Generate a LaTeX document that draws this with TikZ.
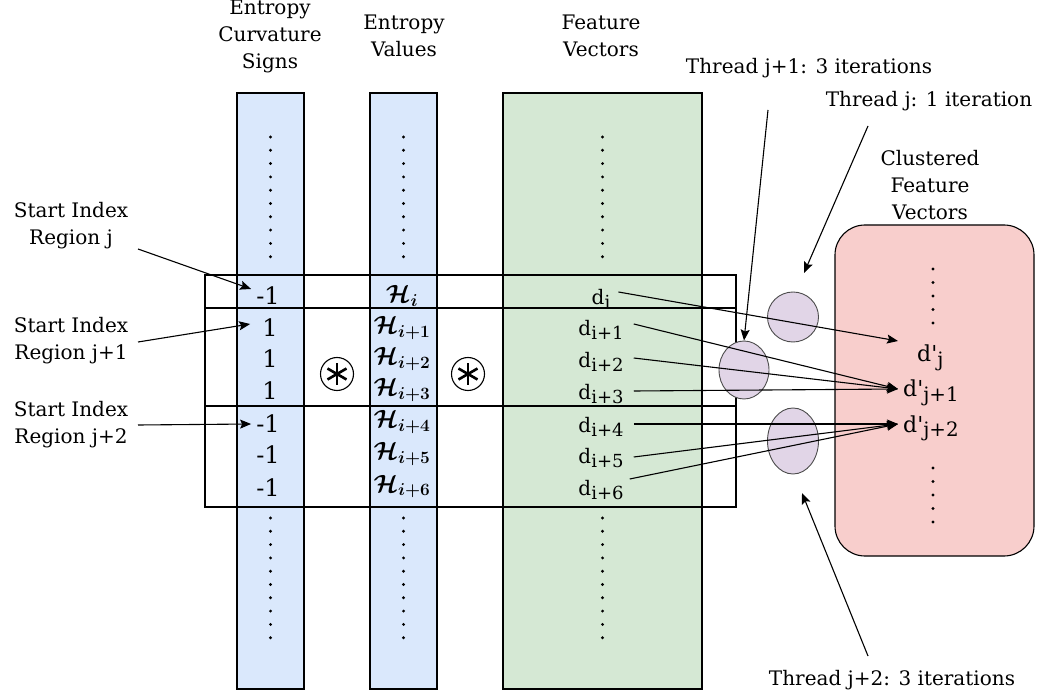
\documentclass[tikz,border=0pt]{standalone}
\usepackage{fontspec}
\setmainfont{DejaVu Serif}
\usepackage{amsmath,amssymb}
\usetikzlibrary{arrows.meta,shapes.geometric,calc}

\definecolor{blueF}{HTML}{DAE8FC}
\definecolor{greenF}{HTML}{D5E8D4}
\definecolor{pinkF}{HTML}{F8CECC}
\definecolor{purpleF}{HTML}{E1D5E7}

\tikzset{
  colbox/.style={draw, line width=1.2pt, inner sep=0pt},
  rowbox/.style={draw, line width=1.1pt},
  lbl/.style={align=center, inner sep=0pt},
  val/.style={anchor=base, inner sep=0pt},
  sign/.style={val, font=\fontsize{24}{24}\selectfont},
  ent/.style={val, font=\fontsize{27}{27}\selectfont},
  feat/.style={val, font=\fontsize{20}{20}\selectfont},
  clus/.style={val, anchor=base west, font=\fontsize{22}{22}\selectfont},
  thread/.style={ellipse, draw=black!70, fill=purpleF, line width=0.9pt, inner sep=0pt},
  conn/.style={line width=1.1pt, -{Stealth[length=11pt,width=9pt,inset=2pt]}},
  opdot/.style={circle, draw, line width=1.1pt, minimum size=33pt, inner sep=0pt},
}

% entropy symbol with bold index
\newcommand{\Hv}[1]{$\boldsymbol{\mathcal{H}}_{\boldsymbol{#1}}$}
% lowered index set close to full size
\newcommand{\lowidx}[1]{\raisebox{-0.2em}{\fontsize{0.9em}{1em}\selectfont #1}}

\begin{document}
\begin{tikzpicture}[x=1pt,y=-1pt, font=\fontsize{20}{27}\selectfont]
\useasboundingbox (0,0) rectangle (1039,700);

% the three data columns
\node[colbox, fill=blueF,  minimum width=67,  minimum height=596] (signs) at (270.5,391) {};
\node[colbox, fill=blueF,  minimum width=67,  minimum height=596] (vals)  at (403.5,391) {};
\node[colbox, fill=greenF, minimum width=199, minimum height=596] (feats) at (602.5,391) {};

% column headers
\node[lbl] (hsigns) at (270,36) {Entropy\\Curvature\\Signs};
\node[lbl] (hvals)  at (404,36) {Entropy\\Values};
\node[lbl] (hfeats) at (601,36) {Feature\\Vectors};

% vertical ellipses above and below the regions
\foreach \x in {270.5,403.5,602.5}{
  \foreach \k in {0,...,9}{
    \fill (\x,137+13.3*\k) circle (1.6);
    \fill (\x,518+13.3*\k) circle (1.6);
  }
}

% region outlines
\draw[rowbox] (205,275) rectangle (736,308);
\draw[rowbox] (205,308) rectangle (736,406);
\draw[rowbox] (205,406) rectangle (736,507);

% curvature signs
\node[sign] (s0) at (268,305) {-1};
\node[sign] (s1) at (270,337) {1};
\node[sign] (s2) at (270,368) {1};
\node[sign] (s3) at (270,400) {1};
\node[sign] (s4) at (268,432) {-1};
\node[sign] (s5) at (268,464) {-1};
\node[sign] (s6) at (268,496) {-1};

% entropy values
\node[ent] (h0) at (402,303) {\Hv{i}};
\node[ent] (h1) at (402,334) {\Hv{i+1}};
\node[ent] (h2) at (402,365) {\Hv{i+2}};
\node[ent] (h3) at (402,396) {\Hv{i+3}};
\node[ent] (h4) at (402,428) {\Hv{i+4}};
\node[ent] (h5) at (402,460) {\Hv{i+5}};
\node[ent] (h6) at (402,492) {\Hv{i+6}};

% element-wise products
\foreach \n/\x in {op1/337, op2/468}{
  \node[opdot] (\n) at (\x,374) {};
  \foreach \a in {90,30,150}{
    \draw[line width=2.6pt] ($(\n)+(\a:11)$) -- ($(\n)+(\a+180:11)$);
  }
}

% feature vectors
\node[feat] (d0) at (601,305) {d\lowidx{i}};
\node[feat] (d1) at (601,336) {d\lowidx{i+1}};
\node[feat] (d2) at (601,368) {d\lowidx{i+2}};
\node[feat] (d3) at (601,400) {d\lowidx{i+3}};
\node[feat] (d4) at (601,432) {d\lowidx{i+4}};
\node[feat] (d5) at (601,464) {d\lowidx{i+5}};
\node[feat] (d6) at (601,495) {d\lowidx{i+6}};

% clustered feature vectors
\node[lbl] (hclust) at (930,185) {Clustered\\Feature\\Vectors};
\node[draw, line width=1.1pt, fill=pinkF, rounded corners=30pt, minimum width=199,
      minimum height=331, inner sep=0pt] (clust) at (934.5,390.5) {};
\foreach \k in {0,...,4}{
  \fill (933,269+13.5*\k) circle (1.6);
  \fill (933,468+13.5*\k) circle (1.6);
}
\node[clus] (pj)  at (917,362) {d\textquotesingle\lowidx{j}};
\node[clus] (pj1) at (903,397) {d\textquotesingle\lowidx{j+1}};
\node[clus] (pj2) at (903,432) {d\textquotesingle\lowidx{j+2}};

% per-thread reductions
\node[thread, minimum width=51, minimum height=50] (t0) at (793,317) {};
\node[thread, minimum width=50, minimum height=58] (t1) at (744,370) {};
\node[thread, minimum width=51, minimum height=66] (t2) at (793,441) {};

% feature vectors to their cluster
\coordinate (pjIn)  at (898,341);
\coordinate (pj1In) at ([shift={(-5,-8)}]pj1.base west);
\coordinate (pj2In) at ([shift={(-5,-8)}]pj2.base west);
\draw[conn] ([shift={(8,-13)}]d0.base east) -- (pjIn);
\draw[conn] ([shift={(10,-12)}]d1.base east) -- (pj1In);
\draw[conn] ([shift={(10,-10)}]d2.base east) -- (pj1In);
\draw[conn] ([shift={(10,-9)}]d3.base east) -- (pj1In);
\draw[conn] ([shift={(10,-8)}]d4.base east) -- (pj2In);
\draw[conn] ([shift={(10,-7)}]d5.base east) -- (pj2In);
\draw[conn] ([shift={(6,-16)}]d6.base east) -- (pj2In);

% start index annotations
\node[lbl] (st0) at (71,226) {Start Index\\Region j};
\node[lbl] (st1) at (71,341) {Start Index\\Region j+1};
\node[lbl] (st2) at (71,425) {Start Index\\Region j+2};
\coordinate (st0o) at (138,249);
\coordinate (st1o) at (138,342);
\coordinate (st2o) at (138,425);
\draw[conn] (st0o) -- ([shift={(-5,-16)}]s0.base west);
\draw[conn] (st1o) -- ([shift={(-12,-13)}]s1.base west);
\draw[conn] (st2o) -- ([shift={(-5,-8)}]s4.base west);

% thread annotations
\node[lbl] (th1) at (809,68)  {Thread j+1: 3 iterations};
\node[lbl] (th0) at (929,101) {Thread j: 1 iteration};
\node[lbl] (th2) at (892,680) {Thread j+2: 3 iterations};
\coordinate (th1o) at (768,110);
\coordinate (th0o) at (868,126);
\coordinate (th2o) at (868,656);
\coordinate (t0in) at (804,273);
\coordinate (t2in) at (802,493);
\draw[conn] (th1o) -- (t1.north);
\draw[conn] (th0o) -- (t0in);
\draw[conn] (th2o) -- (t2in);
\end{tikzpicture}
\end{document}
